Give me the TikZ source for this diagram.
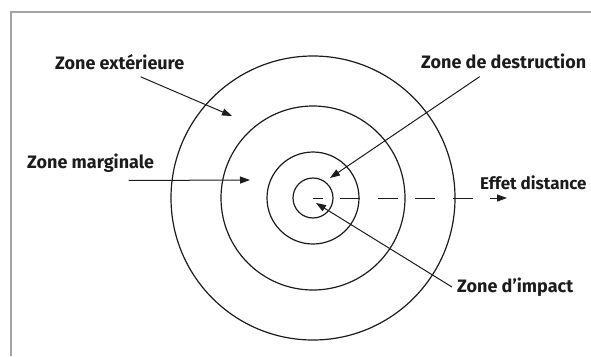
\documentclass[tikz,border=0pt]{standalone}
\usepackage{fontspec}
\setmainfont{Fira Sans}
\usetikzlibrary{arrows.meta}
\definecolor{zframe}{HTML}{A3A3A3}
\definecolor{zink}{HTML}{1C1C1C}

\tikzset{
  zlabel/.style={font=\bfseries\fontsize{18}{20}\selectfont, text=zink, inner sep=0pt, anchor=west},
  zring/.style={draw=zink, line width=1.2pt},
  zarrow/.style={draw=zink, line width=1pt, -{Triangle[length=10pt,width=7pt]}}
}

\begin{document}
\begin{tikzpicture}[x=1pt,y=-1pt]
    \useasboundingbox (0,0) rectangle (591,356);

    % Frame (open at right and bottom)
    \draw[zframe, line width=1.5pt] (11,356) -- (11,12) -- (591,12);

    % Concentric zones
    \coordinate (centre) at (313,198);
    \foreach \r in {20, 46, 92, 142} {
        \draw[zring] (centre) circle [radius=\r pt];
    }

    % Labels
    \node[zlabel] (lext) at (55,62) {Zone extérieure};
    \node[zlabel] (lmarg) at (27,163) {Zone marginale};
    \node[zlabel] (ldestr) at (421,61) {Zone de destruction};
    \node[zlabel, font=\bfseries\fontsize{17}{19}\selectfont] (leffet) at (480,183) {Effet distance};
    \node[zlabel] (limpact) at (457,287) {Zone d’impact};

    % Arrow tips
    \coordinate (text) at (232,116);
    \coordinate (tmarg) at (250,180);
    \coordinate (tdestr) at (330,178);
    \coordinate (timpact) at (316,203);
    \coordinate (teffet) at (507,198);

    % Pointers
    \draw[zarrow] ([xshift=21pt,yshift=-7pt]lext.south) -- (text);
    \draw[zarrow] ([xshift=38pt,yshift=-8pt]lmarg.south) -- (tmarg);
    \draw[zarrow] ([xshift=-24pt,yshift=-8pt]ldestr.south) -- (tdestr);
    \draw[zarrow] ([xshift=-5pt]limpact.west) -- (timpact);
    \draw[zarrow, dash pattern=on 20pt off 17.5pt, dash phase=10.5pt] (centre) -- (teffet);
\end{tikzpicture}
\end{document}
